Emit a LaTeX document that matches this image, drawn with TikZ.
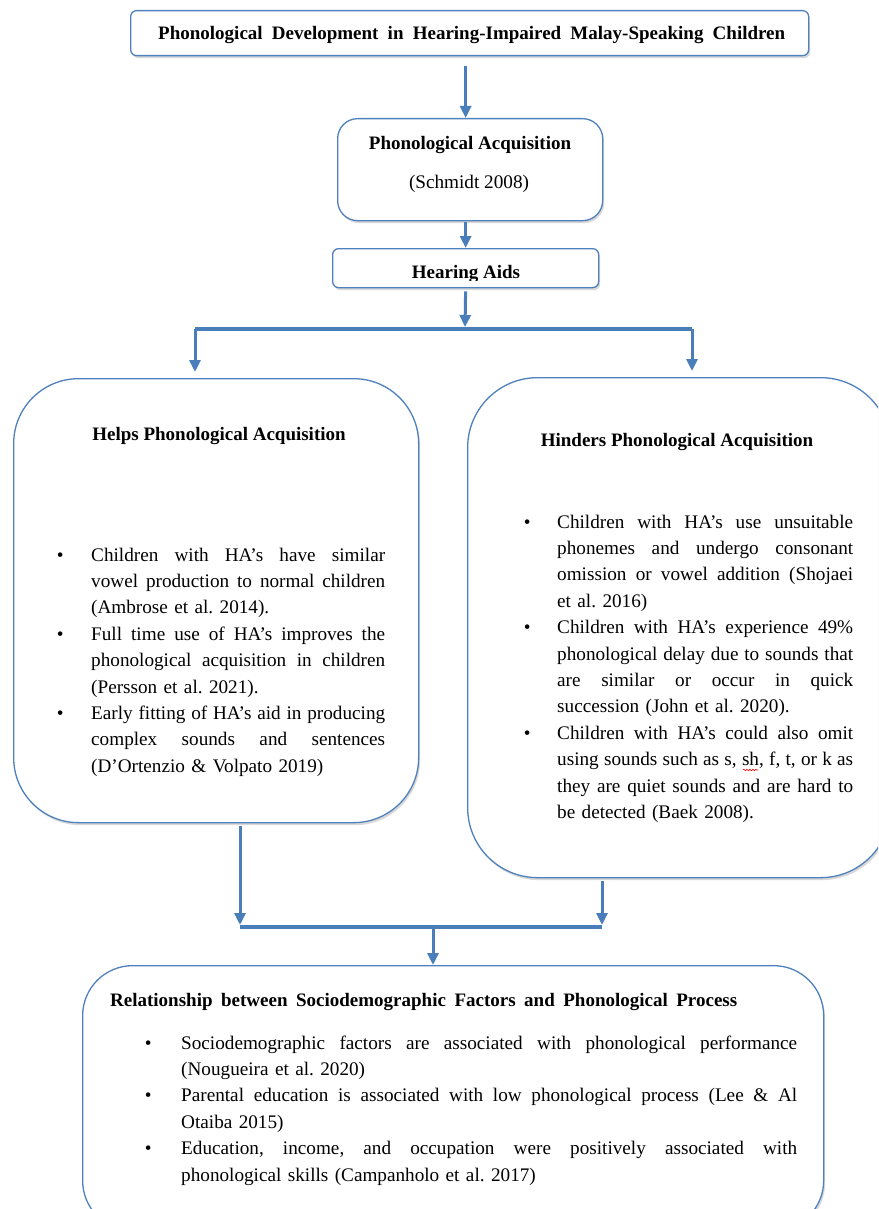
\documentclass[tikz,border=0pt]{standalone}
\usepackage{fontspec}
\setmainfont{Liberation Serif}
\usetikzlibrary{arrows.meta,shadows,decorations.pathmorphing}
\definecolor{bord}{HTML}{4F81BD}
\definecolor{arrc}{HTML}{4A7EBB}
\frenchspacing
\newcommand{\jl}[2]{\noindent\strut\hbox to #1{\spaceskip=0pt\xspaceskip=0pt #2}\par}
\newcommand{\rl}[1]{\noindent\strut#1\par}
\newcommand{\bul}[1]{\noindent\llap{\textbullet\hspace{#1}}}
\tikzset{
  box/.style={draw=bord, line width=1.3pt, fill=white,
    drop shadow={opacity=0.3, shadow xshift=1.5pt, shadow yshift=-2.5pt}},
  arr/.style={draw=arrc, line width=3pt, -{Triangle[length=12pt,width=11pt]}},
  bar/.style={draw=arrc, line width=3.5pt},
  ttl/.style={font=\bfseries\fontsize{19}{23}\selectfont, inner sep=0pt},
  txt/.style={font=\fontsize{19.2}{26.4}\selectfont, inner sep=0pt},
  body/.style={font=\fontsize{19.2}{26.4}\selectfont\frenchspacing, inner sep=0pt, anchor=north west},
  squiggle/.style={draw=red, line width=0.6pt, decorate, decoration={snake, amplitude=0.8pt, segment length=3pt}},
}
\begin{document}
\begin{tikzpicture}[x=1pt,y=-1pt]
\useasboundingbox (0,0) rectangle (878,1209);
\fill[white] (0,0) rectangle (878,1209);
\clip (0,0) rectangle (878,1209);

% boxes
\node[box, rounded corners=6pt, minimum width=678pt, minimum height=45pt, anchor=north west] (top) at (130,10) {};
\node[box, rounded corners=20pt, minimum width=265pt, minimum height=102pt, anchor=north west] (pa) at (337,118) {};
\node[box, rounded corners=6pt, minimum width=266pt, minimum height=39pt, anchor=north west] (ha) at (332,248) {};
\node[box, rounded corners=65pt, minimum width=405pt, minimum height=444pt, anchor=north west] (lb) at (13,378) {};
\node[box, rounded corners=70pt, minimum width=423pt, minimum height=500pt, anchor=north west] (rb) at (467,377) {};
\node[box, rounded corners=50pt, minimum width=741pt, minimum height=265pt, anchor=north west] (bb) at (82,965) {};

% titles
\node[ttl, anchor=base west] (t0) at (158,40) {\makebox[627pt][s]{Phonological Development in Hearing-Impaired Malay-Speaking Children}};
\node[ttl, anchor=base] (t1) at (470,150) {Phonological Acquisition};
\node[txt, anchor=base] (t2) at (469,189) {(Schmidt 2008)};
\begin{scope}
\clip (332,250) rectangle (598,280);
\node[ttl, anchor=base] (t3) at (466,278) {Hearing Aids};
\end{scope}
\node[ttl, anchor=base] (t4) at (219,440) {Helps Phonological Acquisition};
\node[ttl, anchor=base] (t5) at (677,446) {Hinders Phonological Acquisition};
\node[ttl, anchor=base west] (t6) at (110,1006) {\makebox[627pt][s]{Relationship between Sociodemographic Factors and Phonological Process}};

% body texts
\node[body, text width=294pt] (lt) at (91,542.5) {%
\bul{27.5pt}\jl{294pt}{Children with HA’s have similar}
\jl{294pt}{vowel production to normal children}
\rl{(Ambrose et al. 2014).}
\bul{27.5pt}\jl{294pt}{Full time use of HA’s improves the}
\jl{294pt}{phonological acquisition in children}
\rl{(Persson et al. 2021).}
\bul{27.5pt}\jl{294pt}{Early fitting of HA’s aid in producing}
\jl{294pt}{complex sounds and sentences}
\rl{(D’Ortenzio \& Volpato 2019)}};

\node[body, text width=296pt] (rt) at (557,509.5) {%
\bul{26.5pt}\jl{296pt}{Children with HA’s use unsuitable}
\jl{296pt}{phonemes and undergo consonant}
\jl{296pt}{omission or vowel addition (Shojaei}
\rl{et al. 2016)}
\bul{26.5pt}\jl{296pt}{Children with HA’s experience 49\%}
\jl{296pt}{phonological delay due to sounds that}
\jl{296pt}{are similar or occur in quick}
\rl{succession (John et al. 2020).}
\bul{26.5pt}\jl{296pt}{Children with HA’s could also omit}
\jl{296pt}{using sounds such as s, sh, f, t, or k as}
\jl{296pt}{they are quiet sounds and are hard to}
\rl{be detected (Baek 2008).}};

% spell-check squiggle under "sh"
\draw[squiggle] (743,770) -- (758,770);

\node[body, text width=616pt] (bt) at (181,1030.5) {%
\bul{29.5pt}\jl{616pt}{Sociodemographic factors are associated with phonological performance}
\rl{(Nougueira et al. 2020)}
\bul{29.5pt}\jl{616pt}{Parental education is associated with low phonological process (Lee \& Al}
\rl{Otaiba 2015)}
\bul{29.5pt}\jl{616pt}{Education, income, and occupation were positively associated with}
\rl{phonological skills (Campanholo et al. 2017)}};

% connectors
\coordinate (bm) at (465,329);
\coordinate (bl) at (195,329);
\coordinate (br) at (692,329);
\coordinate (ml) at (240,927);
\coordinate (mr) at (602,927);
\coordinate (mm) at (433,927);

\draw[arr, shorten <=10pt] (top.south -| ha.north) -- (pa.north -| ha.north);
\draw[arr, shorten <=1pt] (pa.south -| ha.north) -- (ha.north);
\draw[arr, shorten <=3pt, shorten >=2pt] (ha.south) -- (bm);
\draw[bar] (bl) -- (br);
\draw[arr, shorten >=6pt] (bl) -- (bl |- lb.north);
\draw[arr, shorten >=6pt] (br) -- (br |- rb.north);
\draw[arr, shorten <=3pt, shorten >=2pt] (lb.south -| ml) -- (ml);
\draw[arr, shorten <=3pt, shorten >=2pt] (rb.south -| mr) -- (mr);
\draw[bar] (ml) -- (mr);
\draw[arr, shorten <=2pt] (mm) -- (bb.north -| mm);
\end{tikzpicture}
\end{document}
